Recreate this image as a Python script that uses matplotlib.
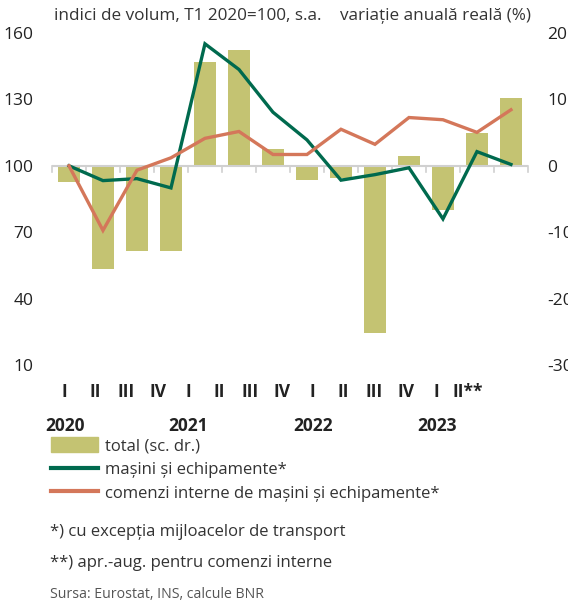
import numpy as np
import matplotlib.pyplot as plt
from matplotlib.lines import Line2D
from matplotlib.patches import Patch
from matplotlib import font_manager

plt.rcParams['font.family'] = ['Open Sans', 'DejaVu Sans']
plt.rcParams['axes.unicode_minus'] = False

# font ingust pentru axe, daca exista
nume = {f.name for f in font_manager.fontManager.ttflist}
f_axe = 'Liberation Sans Narrow' if 'Liberation Sans Narrow' in nume else 'Open Sans'

# date
trimestre = ['I', 'II', 'III', 'IV', 'I', 'II', 'III', 'IV', 'I', 'II', 'III', 'IV', 'I', 'II**']
ani = ['2020', '2021', '2022', '2023']
total = [-2.5, -15.6, -12.8, -12.8, 15.7, 17.4, 2.6, -2.2, -1.8, -25.2, 1.5, -6.7, 5.0, 10.2]
masini = [100, 93.3, 94.2, 90.0, 155.1, 143.5, 124.2, 111.7, 93.5, 96.0, 99.1, 76.0, 106.4, 100.6]
comenzi = [100, 70.8, 98.0, 103.6, 112.4, 115.5, 105.1, 105.1, 116.5, 109.7, 121.8, 120.8, 115.1, 125.3]

c_bar = '#c4c372'
c_verde = '#006a4e'
c_portocaliu = '#d4775a'
c_text = '#333333'

fig = plt.figure(figsize=(5.68, 6.05), dpi=100)
ax = fig.add_axes([0.0915, 0.3967, 0.838, 0.5488])
ax2 = ax.twinx()

n = len(trimestre)
x = np.arange(n)

# linia de zero cu marcaje intre trimestre
ax.axhline(100, color='#d0d0d0', lw=1.5, zorder=0)
for b in np.arange(n + 1) - 0.5:
    ax.plot([b, b], [100, 97.3], color='#d0d0d0', lw=1.2, zorder=0, clip_on=False)

ax2.bar(x, total, width=0.63, color=c_bar, zorder=1)
ax.plot(x, masini, color=c_verde, lw=2.4, zorder=3, solid_joinstyle='miter')
ax.plot(x, comenzi, color=c_portocaliu, lw=2.4, zorder=3, solid_joinstyle='miter')

ax.set_zorder(ax2.get_zorder() + 1)
ax.patch.set_visible(False)

ax.set_xlim(-0.5, n - 0.5)
ax.set_ylim(10, 160)
ax2.set_ylim(-30, 20)
ax.set_yticks([10, 40, 70, 100, 130, 160])
ax2.set_yticks([-30, -20, -10, 0, 10, 20])

for a in (ax, ax2):
    for s in a.spines.values():
        s.set_visible(False)
    a.tick_params(length=0, labelsize=12.5, colors='#222222')
    for t in a.get_yticklabels():
        t.set_family(f_axe)
ax.tick_params(axis='y', pad=13.5)
ax2.tick_params(axis='y', pad=14)

# etichete trimestre (pozitionate ca in original, usor comprimate)
pas = 31 / 34
poz = -0.13 + pas * x
ax.set_xticks(poz)
ax.set_xticklabels(trimestre, fontsize=12.5, color='#222222', fontweight='bold', family=f_axe)
ax.tick_params(axis='x', pad=13)
for i, an in enumerate(ani):
    ax.text(poz[i * 4], -0.185, an, transform=ax.get_xaxis_transform(),
            ha='center', va='center', fontsize=12.5, fontweight='bold',
            color='#222222', family=f_axe)

fig.text(0.095, 0.973, 'indici de volum, T1 2020=100, s.a.', fontsize=12.3,
         color=c_text, va='center', ha='left')
fig.text(0.599, 0.973, 'variație anuală reală (%)', fontsize=12.3,
         color=c_text, va='center', ha='left')

handles = [Patch(color=c_bar),
           Line2D([], [], color=c_verde, lw=3),
           Line2D([], [], color=c_portocaliu, lw=3)]
labels = ['total (sc. dr.)', 'mașini și echipamente*',
          'comenzi interne de mașini și echipamente*']
fig.legend(handles, labels, loc='upper left', bbox_to_anchor=(0.078, 0.288),
           frameon=False, fontsize=12, handlelength=2.8, handleheight=1.0,
           handletextpad=0.45, labelspacing=0.38, borderaxespad=0,
           labelcolor=c_text)

fig.text(0.088, 0.121, '*) cu excepția mijloacelor de transport', fontsize=12,
         color=c_text, va='center')
fig.text(0.088, 0.069, '**) apr.-aug. pentru comenzi interne', fontsize=12,
         color=c_text, va='center')
fig.text(0.088, 0.018, 'Sursa: Eurostat, INS, calcule BNR', fontsize=10.2,
         color='#555555', va='center')

fig.savefig('out.png', dpi=100)
